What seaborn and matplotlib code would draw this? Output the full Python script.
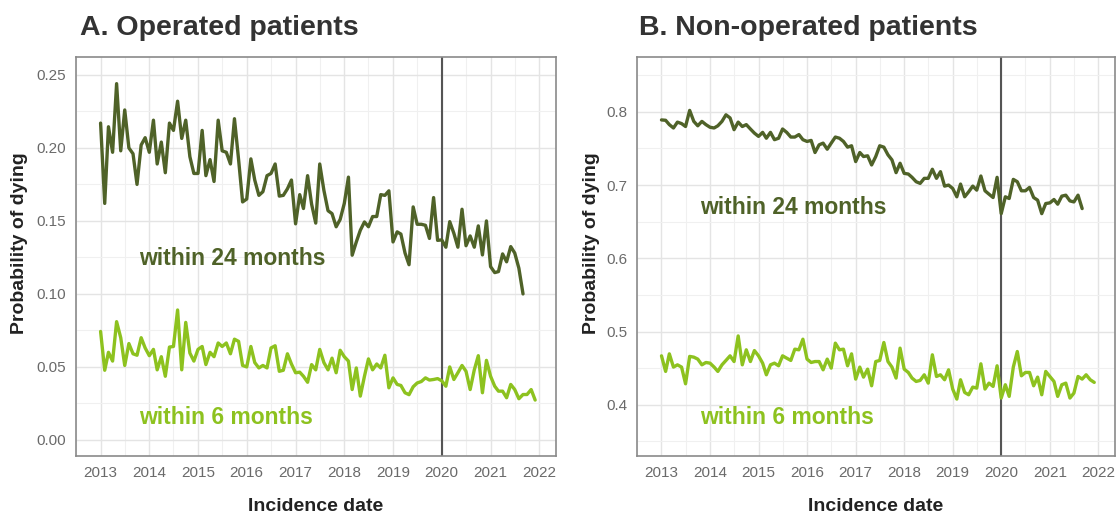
import pandas as pd
import seaborn as sns
import matplotlib.pyplot as plt
import matplotlib.dates as mdates
from matplotlib.ticker import MultipleLocator, FormatStrFormatter

# monthly probabilities of dying, Jan 2013 onwards
op_24m = [0.217, 0.162, 0.2145, 0.197, 0.244, 0.198, 0.226, 0.200, 0.196, 0.175, 0.202, 0.207,
          0.197, 0.219, 0.189, 0.204, 0.183, 0.217, 0.212, 0.232, 0.2065, 0.219, 0.194, 0.1825,
          0.1825, 0.212, 0.181, 0.192, 0.177, 0.219, 0.198, 0.197, 0.189, 0.220, 0.192, 0.163,
          0.165, 0.1925, 0.178, 0.1675, 0.170, 0.181, 0.1825, 0.189, 0.167, 0.1675, 0.172, 0.178,
          0.148, 0.168, 0.1585, 0.181, 0.1615, 0.1485, 0.189, 0.171, 0.157, 0.155, 0.146, 0.151,
          0.162, 0.180, 0.1265, 0.1356, 0.1436, 0.1493, 0.146, 0.153, 0.153, 0.168, 0.1675, 0.1706,
          0.1356, 0.1425, 0.141, 0.128, 0.120, 0.1596, 0.1477, 0.1477, 0.147, 0.138, 0.166, 0.1367,
          0.137, 0.132, 0.1495, 0.1415, 0.132, 0.158, 0.133, 0.1397, 0.132, 0.1466, 0.1267, 0.150,
          0.1187, 0.1146, 0.1153, 0.1274, 0.122, 0.1324, 0.128, 0.1176, 0.100]
op_6m = [0.0743, 0.0477, 0.060, 0.054, 0.081, 0.070, 0.051, 0.066, 0.059, 0.058, 0.070, 0.063,
         0.0577, 0.062, 0.048, 0.057, 0.0436, 0.0636, 0.064, 0.089, 0.048, 0.0805, 0.0595, 0.054,
         0.062, 0.064, 0.0516, 0.060, 0.057, 0.0664, 0.064, 0.0664, 0.059, 0.069, 0.0675, 0.051,
         0.050, 0.064, 0.053, 0.0493, 0.051, 0.0493, 0.063, 0.0645, 0.047, 0.0477, 0.059, 0.052,
         0.046, 0.0464, 0.0436, 0.0395, 0.0516, 0.048, 0.062, 0.053, 0.048, 0.056, 0.046, 0.0614,
         0.057, 0.054, 0.0345, 0.0493, 0.030, 0.0436, 0.0555, 0.048, 0.052, 0.0493, 0.058, 0.0357,
         0.0425, 0.038, 0.0373, 0.0323, 0.031, 0.0364, 0.039, 0.040, 0.0425, 0.041, 0.0414, 0.042,
         0.0405, 0.0368, 0.050, 0.0414, 0.046, 0.051, 0.047, 0.0345, 0.048, 0.0577, 0.0323, 0.0545,
         0.0436, 0.0368, 0.0334, 0.0334, 0.0289, 0.038, 0.0345, 0.0282, 0.0311, 0.0311, 0.0345, 0.0273]
nonop_24m = [0.789, 0.7885, 0.7826, 0.778, 0.786, 0.784, 0.780, 0.802, 0.787, 0.781, 0.787, 0.7826,
             0.779, 0.778, 0.781, 0.787, 0.796, 0.7917, 0.7757, 0.786, 0.780, 0.7826, 0.7766, 0.771,
             0.7665, 0.772, 0.764, 0.772, 0.762, 0.764, 0.7766, 0.772, 0.7656, 0.7656, 0.769, 0.762,
             0.7596, 0.761, 0.7445, 0.755, 0.7573, 0.749, 0.7573, 0.7656, 0.764, 0.7596, 0.7518, 0.7537,
             0.7321, 0.7445, 0.739, 0.740, 0.7275, 0.739, 0.7537, 0.7518, 0.7413, 0.7344, 0.717, 0.7298,
             0.716, 0.7151, 0.7106, 0.7046, 0.7023, 0.7092, 0.7092, 0.7216, 0.7092, 0.7183, 0.6986, 0.700,
             0.6954, 0.684, 0.7014, 0.684, 0.6908, 0.6986, 0.6931, 0.7124, 0.6922, 0.6876, 0.683, 0.7106,
             0.661, 0.684, 0.6817, 0.7078, 0.7046, 0.6922, 0.6922, 0.6968, 0.683, 0.6794, 0.661, 0.6748,
             0.6757, 0.6803, 0.6739, 0.6849, 0.6862, 0.6784, 0.677, 0.6862, 0.6679]
nonop_6m = [0.4668, 0.4455, 0.4695, 0.4514, 0.4545, 0.4514, 0.4286, 0.466, 0.465, 0.4623, 0.4545, 0.4577,
            0.4568, 0.4514, 0.4455, 0.4545, 0.4605, 0.4668, 0.459, 0.494, 0.4545, 0.475, 0.459, 0.474,
            0.4668, 0.4568, 0.4409, 0.4545, 0.4568, 0.4532, 0.4668, 0.4636, 0.4605, 0.4759, 0.475, 0.4895,
            0.4623, 0.4577, 0.459, 0.459, 0.4477, 0.4623, 0.450, 0.4841, 0.475, 0.4759, 0.4532, 0.4695,
            0.435, 0.4514, 0.4377, 0.4486, 0.4259, 0.459, 0.4605, 0.485, 0.459, 0.4514, 0.4364, 0.4773,
            0.4486, 0.4441, 0.4364, 0.4318, 0.4332, 0.4409, 0.4295, 0.4682, 0.4386, 0.4409, 0.4341, 0.4477,
            0.4214, 0.4077, 0.4341, 0.4168, 0.4136, 0.4241, 0.4227, 0.4559, 0.4214, 0.4295, 0.425, 0.4532,
            0.4091, 0.4273, 0.4114, 0.4514, 0.4727, 0.4395, 0.4441, 0.4441, 0.4259, 0.4377, 0.4136, 0.4455,
            0.4386, 0.4318, 0.4114, 0.4273, 0.4295, 0.4091, 0.4159, 0.4386, 0.435, 0.4409, 0.4341, 0.4305]

dark_green = '#4f6228'
light_green = '#8dc21f'

sns.set_style('whitegrid')
plt.rcParams['font.family'] = ['Liberation Sans', 'DejaVu Sans']


def frame(values):
    return pd.DataFrame({
        'date': pd.date_range('2013-01-01', periods=len(values), freq='MS'),
        'prob': values,
    })


fig = plt.figure(figsize=(11.18, 5.15), dpi=100)
ax1 = fig.add_axes([0.068, 0.1146, 0.4293, 0.7748])
ax2 = fig.add_axes([0.5698, 0.1146, 0.4275, 0.7748])

panels = [
    (ax1, op_24m, op_6m, (-0.011, 0.2623), 0.05, '%.2f',
     (0.1199, 0.0108), -0.100),
    (ax2, nonop_24m, nonop_6m, (0.330, 0.875), 0.1, '%.1f',
     (0.661, 0.3736), -0.077),
]

for ax, s24, s6, ylim, step, fmt, text_y, ylab_x in panels:
    sns.lineplot(data=frame(s24), x='date', y='prob', ax=ax, color=dark_green, lw=2.4)
    sns.lineplot(data=frame(s6), x='date', y='prob', ax=ax, color=light_green, lw=2.4)
    ax.axvline(pd.Timestamp('2020-01-01'), color='#555555', lw=1.5, zorder=1)

    ax.set_xlim(pd.Timestamp('2012-07-01'), pd.Timestamp('2022-05-06'))
    ax.set_ylim(*ylim)
    ax.xaxis.set_major_locator(mdates.YearLocator())
    ax.xaxis.set_major_formatter(mdates.DateFormatter('%Y'))
    ax.xaxis.set_minor_locator(mdates.MonthLocator(bymonth=7))
    ax.yaxis.set_major_locator(MultipleLocator(step))
    ax.yaxis.set_minor_locator(MultipleLocator(step / 2))
    ax.yaxis.set_major_formatter(FormatStrFormatter(fmt))

    ax.grid(which='major', color='#e4e4e4', lw=1.0)
    ax.grid(which='minor', color='#f0f0f0', lw=0.8)
    ax.set_axisbelow(True)
    ax.tick_params(which='both', length=0, labelsize=11, labelcolor='#6a6a6a', pad=7)
    for sp in ax.spines.values():
        sp.set_color('#8a8a8a')
        sp.set_linewidth(1.2)

    ax.set_xlabel('Incidence date', fontsize=14, fontweight='bold', color='#222222')
    ax.set_ylabel('Probability of dying', fontsize=14, fontweight='bold', color='#222222')
    ax.xaxis.set_label_coords(0.5, -0.105)
    ax.yaxis.set_label_coords(ylab_x, 0.534)

    tx = pd.Timestamp('2013-10-20')
    ax.text(tx, text_y[0], 'within 24 months', color=dark_green, fontsize=16.5,
            fontweight='bold', va='baseline')
    ax.text(tx, text_y[1], 'within 6 months', color=light_green, fontsize=16.5,
            fontweight='bold', va='baseline')

fig.text(80 / 1118, 1 - 35 / 515, 'A. Operated patients', fontsize=20.5,
         fontweight='bold', color='#333333', va='baseline')
fig.text(639 / 1118, 1 - 35 / 515, 'B. Non-operated patients', fontsize=20.5,
         fontweight='bold', color='#333333', va='baseline')

fig.savefig('out.png', dpi=100)
